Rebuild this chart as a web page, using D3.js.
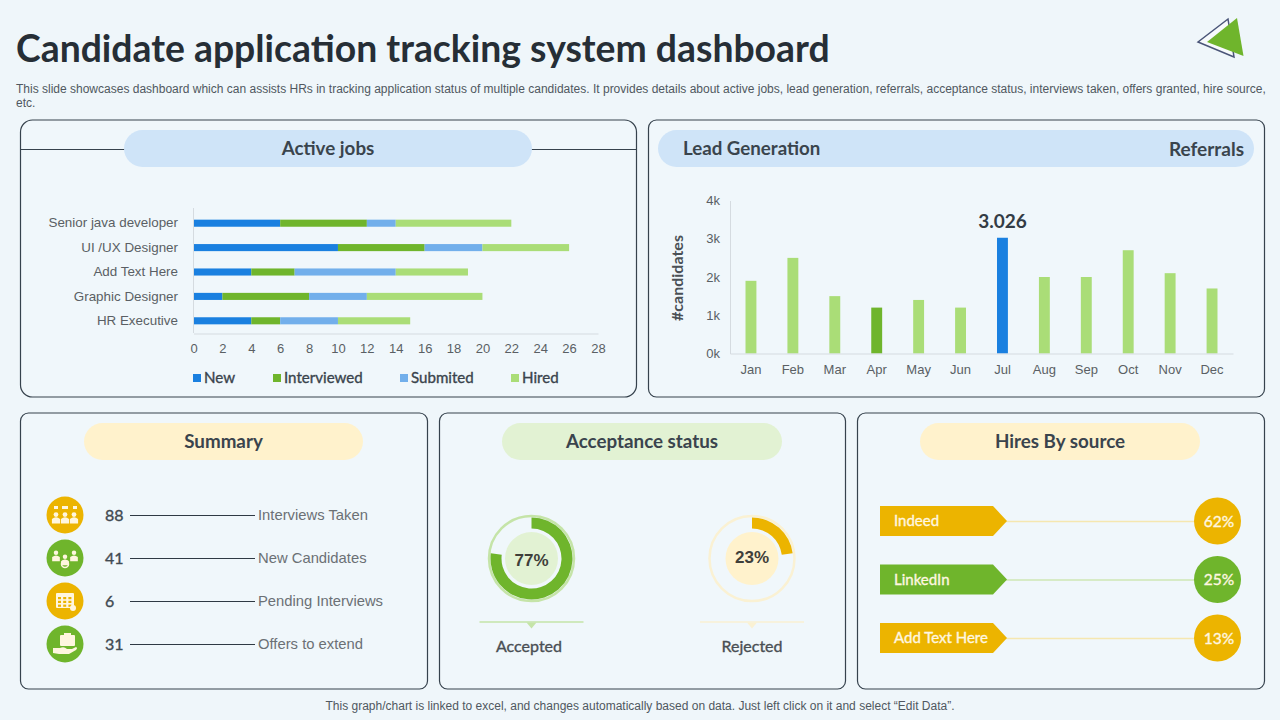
<!DOCTYPE html>
<html>
<head>
<meta charset="utf-8">
<script src="https://cdn.jsdelivr.net/npm/d3@7"></script>
<style>
  html, body { margin: 0; padding: 0; background: #eff6fa; }
  svg { display: block; }
  text { font-family: "Liberation Sans", Arial, sans-serif; }
  .lato { font-family: Lato, sans-serif; }
  .axis .domain, .axis line { stroke: #d5dbe0; }
  .axis text { fill: #5a5f64; font-size: 13px; font-family: "Liberation Sans", Arial, sans-serif; }
</style>
</head>
<body>
<div id="chart"></div>
<script>
// Active jobs
const jobs = ["Senior java developer", "UI /UX Designer", "Add Text Here", "Graphic Designer", "HR Executive"];
const jobStages = ["New", "Interviewed", "Submited", "Hired"];
const newJobs = [6, 10, 4, 2, 4];
const interviewedJobs = [6, 6, 3, 6, 2];
const submittedJobs = [2, 4, 7, 4, 4];
const hiredJobs = [8, 6, 5, 8, 5];
const jobTicks = [0, 2, 4, 6, 8, 10, 12, 14, 16, 18, 20, 22, 24, 26, 28];

// Lead generation
const months = ["Jan", "Feb", "Mar", "Apr", "May", "Jun", "Jul", "Aug", "Sep", "Oct", "Nov", "Dec"];
const referrals = [1900, 2500, 1500, 1200, 1400, 1200, 3026, 2000, 2000, 2700, 2100, 1700];
const leadTicks = [0, 1000, 2000, 3000, 4000];

// Summary
const summaryLabels = ["Interviews Taken", "New Candidates", "Pending Interviews", "Offers to extend"];
const summaryValues = [88, 41, 6, 31];

// Acceptance status
const acceptanceLabels = ["Accepted", "Rejected"];
const acceptanceValues = [77, 23];

// Hires by source
const sources = ["Indeed", "LinkedIn", "Add Text Here"];
const sourceShares = [62, 25, 13];

const BLUE = "#1a80e0", GREEN = "#6fb52c", LIGHT_BLUE = "#72afeb", LIGHT_GREEN = "#aadd77", YELLOW = "#ecb400";
const DARK = "#2f3a44", BORDER = "#36424d";

const svg = d3
  .select("#chart")
  .append("svg")
  .attr("width", 1280)
  .attr("height", 720);

svg.append("rect").attr("width", 1280).attr("height", 720).attr("fill", "#eff6fa");

// Lato only has regular and bold here, a thin stroke gives the medium weight
function medium(sel, color) {
  sel.attr("fill", color).attr("stroke", color).attr("stroke-width", 0.35);
}

// Header
svg.append("text").attr("class", "lato")
  .attr("x", 16).attr("y", 62)
  .attr("font-size", 37.35).attr("font-weight", 700).attr("fill", "#262e36")
  .text("Candidate application tracking system dashboard");

// logo
svg.append("polygon").attr("points", "1228,19 1234,57 1198,42")
  .attr("fill", "#f7fafc").attr("stroke", "#4a5578").attr("stroke-width", 1.5);
svg.append("polygon").attr("points", "1237,18 1243.5,56 1207,42").attr("fill", GREEN);

const descr = svg.append("text").attr("font-size", 12).attr("fill", "#505860");
descr.append("tspan").attr("x", 16).attr("y", 93)
  .text("This slide showcases dashboard which can assists HRs in tracking application status of multiple candidates. It provides details about active jobs, lead generation, referrals, acceptance status, interviews taken, offers granted, hire source,");
descr.append("tspan").attr("x", 16).attr("y", 107).text("etc.");

svg.append("text")
  .attr("x", 640).attr("y", 710)
  .attr("text-anchor", "middle").attr("font-size", 12).attr("fill", "#505860")
  .text("This graph/chart is linked to excel, and changes automatically based on data. Just left click on it and select \u201CEdit Data\u201D.");

// Panels
function panel(x, y, w, h, r) {
  svg.append("rect")
    .attr("x", x).attr("y", y).attr("width", w).attr("height", h).attr("rx", r)
    .attr("fill", "#f0f7fb").attr("stroke", BORDER).attr("stroke-width", 1.2);
}
function pill(x, y, w, h, fill, label) {
  svg.append("rect")
    .attr("x", x).attr("y", y).attr("width", w).attr("height", h).attr("rx", h / 2)
    .attr("fill", fill);
  if (label) {
    svg.append("text").attr("class", "lato")
      .attr("x", x + w / 2).attr("y", y + 25)
      .attr("text-anchor", "middle").attr("font-size", 18.8).attr("font-weight", 700)
      .attr("fill", "#3a444d")
      .text(label);
  }
}
panel(20.5, 120, 616, 277, 12);
panel(648.5, 120, 616, 277, 8);
panel(20.5, 413, 407, 276, 8);
panel(439.5, 413, 406, 276, 8);
panel(857.5, 413, 407, 276, 8);

// line behind the active jobs pill
svg.append("line").attr("x1", 20.5).attr("x2", 636.5).attr("y1", 149.5).attr("y2", 149.5)
  .attr("stroke", BORDER).attr("stroke-width", 1.2);

pill(124, 130, 408, 37, "#cfe4f8", "Active jobs");
pill(658, 130, 596, 37, "#cfe4f8");
svg.append("text").attr("class", "lato").attr("x", 683).attr("y", 155)
  .attr("font-size", 18.7).attr("font-weight", 700).attr("fill", "#3a444d").text("Lead Generation");
svg.append("text").attr("class", "lato").attr("x", 1244).attr("y", 156)
  .attr("text-anchor", "end").attr("font-size", 19).attr("font-weight", 700).attr("fill", "#3a444d").text("Referrals");
pill(84, 423, 279, 37, "#fff2cc", "Summary");
pill(502, 423, 280, 37, "#e2f2d3", "Acceptance status");
pill(920, 423, 280, 37, "#fff2cc", "Hires By source");

// Active jobs stacked bars
const jobRows = jobs.map((job, i) => ({
  job,
  New: newJobs[i],
  Interviewed: interviewedJobs[i],
  Submited: submittedJobs[i],
  Hired: hiredJobs[i],
}));
const stageColor = d3.scaleOrdinal().domain(jobStages).range([BLUE, GREEN, LIGHT_BLUE, LIGHT_GREEN]);
const xJobs = d3.scaleLinear().domain([0, 28]).range([193.5, 598]);
const yJobs = d3.scaleBand().domain(jobs).range([211, 333]).paddingInner(0.71).paddingOuter(0.355);

svg.append("g")
  .selectAll("g")
  .data(d3.stack().keys(jobStages)(jobRows))
  .join("g")
  .attr("fill", (s) => stageColor(s.key))
  .selectAll("rect")
  .data((s) => s)
  .join("rect")
  .attr("x", (d) => xJobs(d[0]))
  .attr("y", (d) => yJobs(d.data.job))
  .attr("width", (d) => xJobs(d[1]) - xJobs(d[0]))
  .attr("height", yJobs.bandwidth());

svg.append("g").attr("class", "axis")
  .attr("transform", "translate(0,333.5)")
  .call(d3.axisBottom(xJobs).tickValues(jobTicks).tickSize(0).tickPadding(10));
svg.append("g").attr("class", "axis")
  .attr("transform", "translate(193.5,0)")
  .call(d3.axisLeft(yJobs).tickSize(0).tickPadding(15.5))
  .call((g) => g.select(".domain").attr("d", "M0,208V333"))
  .call((g) => g.selectAll("text").style("font-size", "13.4px"));

// legend
const legendX = d3.scaleOrdinal().domain(jobStages).range([193, 273, 400, 511]);
const legend = svg.append("g").selectAll("g").data(jobStages).join("g")
  .attr("transform", (d) => `translate(${legendX(d)},378)`);
legend.append("rect").attr("y", -4).attr("width", 8).attr("height", 8).attr("fill", (d) => stageColor(d));
legend.append("text").attr("class", "lato")
  .attr("x", 11).attr("y", 5)
  .attr("font-size", 15.1)
  .text((d) => d)
  .call(medium, "#3a444d");

// Lead generation bars
const xLead = d3.scaleBand().domain(months).range([730, 1233]).paddingInner(0.74).paddingOuter(0.37);
const yLead = d3.scaleLinear().domain([0, 4000]).range([353.5, 200.5]);
const peak = d3.max(referrals);

svg.append("g")
  .selectAll("rect")
  .data(referrals)
  .join("rect")
  .attr("x", (d, i) => xLead(months[i]))
  .attr("y", (d) => yLead(d))
  .attr("width", xLead.bandwidth())
  .attr("height", (d) => yLead(0) - yLead(d))
  .attr("fill", (d, i) => (d === peak ? BLUE : months[i] === "Apr" ? GREEN : LIGHT_GREEN));

svg.append("g").attr("class", "axis")
  .attr("transform", "translate(0,353.5)")
  .call(d3.axisBottom(xLead).tickSize(0).tickPadding(11));
svg.append("g").attr("class", "axis")
  .attr("transform", "translate(730,0)")
  .call(d3.axisLeft(yLead).tickValues(leadTicks).tickSize(0).tickPadding(10).tickFormat((d) => d / 1000 + "k"));

svg.append("text").attr("class", "lato")
  .attr("transform", "translate(683,278) rotate(-90)")
  .attr("text-anchor", "middle").attr("font-size", 16).attr("font-weight", 700).attr("fill", "#4a5056")
  .text("#candidates");

svg.append("text").attr("class", "lato")
  .attr("x", xLead("Jul") + xLead.bandwidth() / 2).attr("y", yLead(peak) - 10)
  .attr("text-anchor", "middle").attr("font-size", 19).attr("font-weight", 700).attr("fill", "#333c45")
  .text(d3.format(".3f")(peak / 1000));

// Summary rows
const ySummary = d3.scalePoint().domain(summaryLabels).range([515, 644]);
const summaryRows = svg.append("g").selectAll("g").data(summaryLabels).join("g")
  .attr("transform", (d) => `translate(0,${ySummary(d)})`);
summaryRows.append("circle").attr("cx", 65).attr("r", 18.5)
  .attr("fill", (d, i) => (i % 2 ? GREEN : YELLOW));
summaryRows.append("text").attr("class", "lato")
  .attr("x", 105).attr("y", 5.5)
  .attr("font-size", 16)
  .text((d, i) => summaryValues[i])
  .call(medium, "#414a52");
summaryRows.append("line").attr("x1", 130).attr("x2", 255).attr("y1", 0.5).attr("y2", 0.5)
  .attr("stroke", DARK).attr("stroke-width", 1.1);
summaryRows.append("text")
  .attr("x", 258).attr("y", 5)
  .attr("font-size", 14.8).attr("fill", "#6b7075")
  .text((d) => d);

// small white icons on the summary circles
const people = (g, xs, y, s) => xs.forEach((x) => {
  g.append("circle").attr("cx", x).attr("cy", y - s * 1.3).attr("r", s * 0.7);
  g.append("path").attr("d", `M${x - s * 1.2},${y + s * 1.3}V${y}Q${x},${y - s} ${x + s * 1.2},${y}V${y + s * 1.3}Z`);
});
const icons = summaryRows.append("g")
  .attr("transform", "translate(65,0)")
  .attr("fill", "#fff6df");

const ic0 = d3.select(icons.nodes()[0]);
people(ic0, [-9, 0, 9], 4, 3.4);
[-11, 8].forEach((x) => ic0.append("rect").attr("x", x).attr("y", -9).attr("width", 4).attr("height", 3));
ic0.append("rect").attr("x", -3).attr("y", -9).attr("width", 6).attr("height", 3);

const ic1 = d3.select(icons.nodes()[1]);
people(ic1, [-9, 9], -1, 3.2);
people(ic1, [0], 3, 3.2);
ic1.append("circle").attr("cx", 0).attr("cy", 6).attr("r", 3.5).attr("fill", "none")
  .attr("stroke", "#fff6df").attr("stroke-width", 1.5);

const ic2 = d3.select(icons.nodes()[2]);
ic2.append("rect").attr("x", -9).attr("y", -8).attr("width", 18).attr("height", 15).attr("rx", 1);
d3.range(3).forEach((r) => d3.range(3).forEach((c) => {
  ic2.append("rect").attr("x", -7 + c * 5.2).attr("y", -4 + r * 3.8).attr("width", 3).attr("height", 2.2).attr("fill", YELLOW);
}));
ic2.append("circle").attr("cx", 8).attr("cy", 7).attr("r", 3);

const ic3 = d3.select(icons.nodes()[3]);
ic3.append("rect").attr("x", -5).attr("y", -9).attr("width", 15).attr("height", 11).attr("rx", 1);
ic3.append("rect").attr("x", -1).attr("y", -11).attr("width", 7).attr("height", 2);
ic3.append("path").attr("d", "M-12,4H-5Q-1,2 2,5H7L11,3Q13,4 11,6L4,10H-6L-12,9Z");

// Acceptance donuts
const pie = d3.pie().sort(null);
const xDonut = d3.scalePoint().domain(acceptanceLabels).range([531.5, 752]);
const donutColor = d3.scaleOrdinal().domain(acceptanceLabels).range([GREEN, YELLOW]);
const donutRing = d3.scaleOrdinal().domain(acceptanceLabels).range(["#c5e4a8", "#faf1d3"]);
const donutDisc = d3.scaleOrdinal().domain(acceptanceLabels).range(["#e2f2d3", "#fff2cc"]);
const arc = d3.arc().innerRadius(30).outerRadius(41);

const donuts = svg.append("g").selectAll("g").data(acceptanceLabels).join("g")
  .attr("transform", (d) => `translate(${xDonut(d)},558.5)`);
donuts.append("circle").attr("r", 42.5).attr("fill", "none")
  .attr("stroke", (d) => donutRing(d)).attr("stroke-width", 2.5);
donuts.append("circle").attr("r", 26.5).attr("fill", (d) => donutDisc(d));
donuts.append("path")
  .attr("d", (d, i) => arc(pie([acceptanceValues[i], 100 - acceptanceValues[i]])[0]))
  .attr("fill", (d) => donutColor(d));
donuts.append("text")
  .attr("y", (d, i) => (i ? 4 : 7))
  .attr("text-anchor", "middle").attr("font-size", 17).attr("font-weight", 700).attr("fill", "#3f3f3a")
  .text((d, i) => acceptanceValues[i] + "%");
donuts.append("line").attr("x1", -52).attr("x2", 52).attr("y1", 63.5).attr("y2", 63.5)
  .attr("stroke", (d) => donutRing(d)).attr("stroke-width", 1.5);
donuts.append("path").attr("d", "M-5,64H5L0,70Z").attr("fill", (d) => donutRing(d));
donuts.append("text").attr("class", "lato")
  .attr("x", (d, i) => (i ? 0 : -2.5))
  .attr("y", 93.5)
  .attr("text-anchor", "middle").attr("font-size", 16)
  .text((d) => d)
  .call(medium, "#4a4f54");

// Hires by source
const ySource = d3.scalePoint().domain(sources).range([521, 638]);
const sourceColor = d3.scaleOrdinal().domain(sources).range([YELLOW, GREEN, YELLOW]);
const sourceRows = svg.append("g").selectAll("g").data(sources).join("g")
  .attr("transform", (d) => `translate(0,${ySource(d)})`);
sourceRows.append("line").attr("x1", 1000).attr("x2", 1200).attr("y1", 0.5).attr("y2", 0.5)
  .attr("stroke", (d, i) => (i === 1 ? "#cfe7b5" : "#f5e7b0")).attr("stroke-width", 1.5);
sourceRows.append("path")
  .attr("d", "M880,-15H993L1007,0L993,15H880Z")
  .attr("fill", (d) => sourceColor(d));
sourceRows.append("text").attr("class", "lato")
  .attr("x", 894).attr("y", 5)
  .attr("font-size", 15)
  .text((d) => d)
  .call(medium, "#fff7e0");
sourceRows.append("circle").attr("cx", 1217.5).attr("r", 23.5).attr("fill", (d) => sourceColor(d));
sourceRows.append("text").attr("class", "lato")
  .attr("x", 1219).attr("y", 5.5)
  .attr("text-anchor", "middle").attr("font-size", 15.5)
  .text((d, i) => sourceShares[i] + "%")
  .call(medium, "#fff7e0");
</script>
</body>
</html>
